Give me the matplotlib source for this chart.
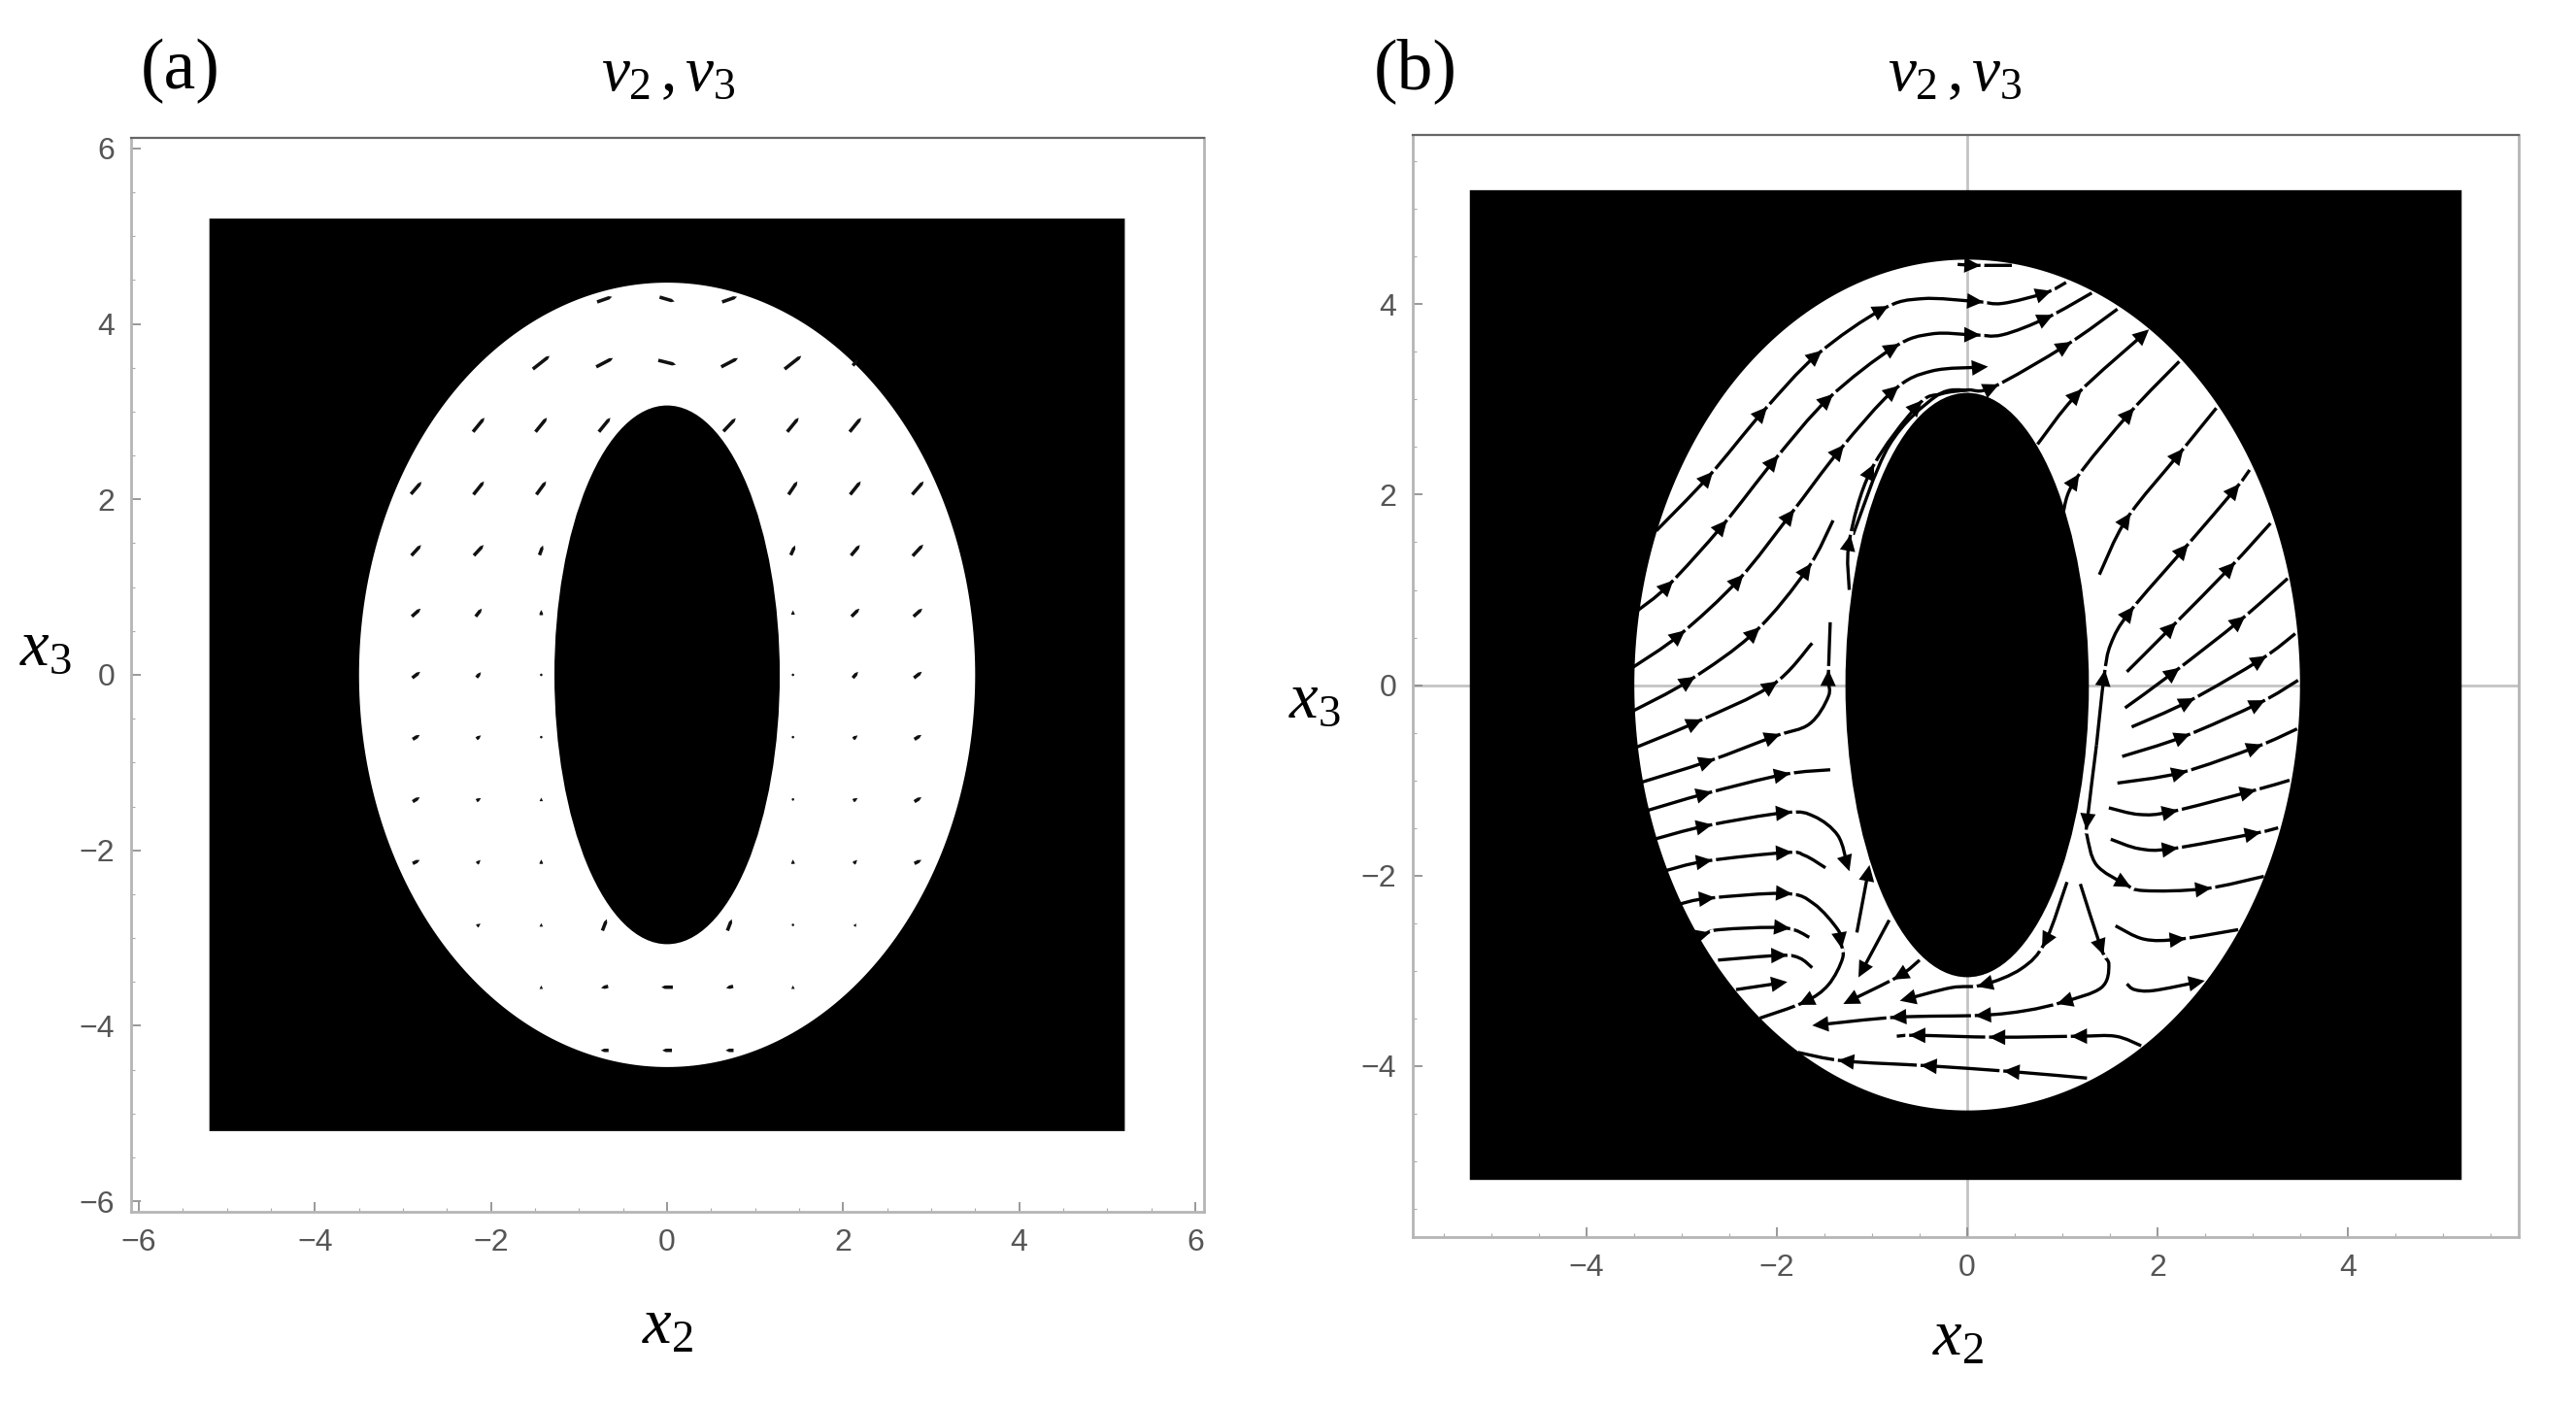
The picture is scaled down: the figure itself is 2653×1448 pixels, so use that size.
import matplotlib
matplotlib.use("Agg")
import matplotlib.pyplot as plt
import matplotlib.patches as patches
from matplotlib.path import Path
from matplotlib.ticker import MultipleLocator
import numpy as np

plt.rcParams["font.family"] = ["Liberation Sans", "DejaVu Sans"]
plt.rcParams["mathtext.fontset"] = "custom"
plt.rcParams["mathtext.rm"] = "Liberation Serif"
plt.rcParams["mathtext.it"] = "Liberation Serif:italic"

W, H = 2653, 1448

box_half = 5.2
outer_a, outer_b = 3.5, 4.47
inner_a, inner_b = 1.28, 3.07

tick_a = [-6, -4, -2, 0, 2, 4, 6]
tick_b = [-4, -2, 0, 2, 4]

# panel (a): rows of the vector grid, x positions and components per row
row_y = [4.28, 3.56, 2.85, 2.13, 1.42, 0.71, 0.0, -0.71, -1.42, -2.13, -2.85, -3.56, -4.28]
row_x = [
    [-0.71, 0, 0.71],
    [-1.43, -0.71, 0, 0.71, 1.43, 2.14],
    [-2.14, -1.43, -0.71, 0.71, 1.43, 2.14],
    [-2.85, -2.14, -1.43, 1.43, 2.14, 2.85],
    [-2.85, -2.14, -1.43, 1.43, 2.14, 2.85],
    [-2.85, -2.14, -1.43, 1.43, 2.14, 2.85],
    [-2.85, -2.14, -1.43, 1.43, 2.14, 2.85],
    [-2.85, -2.14, -1.43, 1.43, 2.14, 2.85],
    [-2.85, -2.14, -1.43, 1.43, 2.14, 2.85],
    [-2.85, -2.14, -1.43, 1.43, 2.14, 2.85],
    [-2.14, -1.43, -0.71, 0.71, 1.43, 2.14],
    [-1.43, -0.71, 0, 0.71, 1.43],
    [-0.71, 0, 0.71],
]
row_u = [
    [0.17, 0.17, 0.17],
    [0.19, 0.19, 0.2, 0.19, 0.19, 0.06],
    [0.13, 0.13, 0.13, 0.14, 0.13, 0.13],
    [0.12, 0.12, 0.11, 0.1, 0.12, 0.13],
    [0.11, 0.11, 0.04, 0.05, 0.1, 0.12],
    [0.1, 0.07, 0.0, 0.0, 0.09, 0.1],
    [0.09, 0.05, 0.0, 0.0, 0.06, 0.09],
    [0.08, 0.05, 0.0, 0.0, 0.05, 0.08],
    [0.08, 0.05, 0.0, 0.0, 0.05, 0.08],
    [0.08, 0.04, 0.0, 0.0, 0.04, 0.08],
    [0.04, 0.0, 0.05, 0.05, 0.0, 0.02],
    [0.0, -0.08, -0.13, -0.08, 0.0],
    [-0.09, -0.11, -0.09],
]
row_v = [
    [0.06, -0.05, 0.06],
    [0.15, 0.1, -0.05, 0.1, 0.15, 0.07],
    [0.16, 0.16, 0.16, 0.15, 0.16, 0.16],
    [0.14, 0.15, 0.15, 0.15, 0.15, 0.15],
    [0.12, 0.12, 0.11, 0.11, 0.12, 0.13],
    [0.09, 0.09, 0.06, 0.05, 0.09, 0.09],
    [0.07, 0.06, 0.03, 0.03, 0.07, 0.07],
    [0.05, 0.04, 0.02, 0.02, 0.04, 0.05],
    [0.05, 0.03, 0.04, 0.03, 0.03, 0.05],
    [0.04, 0.04, 0.05, 0.05, 0.04, 0.04],
    [0.03, 0.04, 0.13, 0.13, 0.03, 0.03],
    [0.04, -0.02, 0.0, -0.02, 0.04],
    [0.0, 0.0, 0.0],
]

# panel (b): streamlines in flow direction and the points that carry an arrowhead
streamlines = [
    [(-0.1, 4.42), (0.07, 4.41), (0.15, 4.41), (0.47, 4.41)],
    [(-3.27, 1.62), (-2.72, 2.19), (-2.15, 2.87), (-1.58, 3.47), (-0.89, 3.95), (-0.47, 4.06), (0.1, 4.03), (0.37, 4.01), (0.82, 4.12), (1.04, 4.23)],
    [(-3.47, 0.78), (-3.14, 1.05), (-2.57, 1.68), (-2.03, 2.36), (-1.46, 3.01), (-0.77, 3.55), (-0.37, 3.69), (0.07, 3.68), (0.37, 3.68), (0.84, 3.86), (1.31, 4.12)],
    [(-3.51, 0.19), (-3.02, 0.53), (-2.4, 1.11), (-1.86, 1.79), (-1.34, 2.47), (-0.77, 3.1), (-0.37, 3.3), (0.15, 3.34)],
    [(-3.51, -0.27), (-2.92, 0.05), (-2.23, 0.56), (-1.68, 1.22), (-1.41, 1.73)],
    [(-1.24, 1.0), (-1.24, 1.51), (-1.01, 2.26), (-0.52, 2.94), (-0.27, 3.06), (0.0, 3.1), (0.27, 3.13), (1.04, 3.57), (1.58, 3.95)],
    [(-1.2, 1.58), (-0.82, 2.52), (-0.32, 3.04), (0.0, 3.1)],
    [(-3.47, -0.65), (-2.85, -0.39), (-2.05, 0.0), (-1.63, 0.44)],
    [(-3.42, -1.02), (-2.72, -0.8), (-2.03, -0.54), (-1.66, -0.41), (-1.46, -0.12), (-1.46, 0.09), (-1.44, 0.66)],
    [(0.74, 2.53), (1.16, 3.06), (1.86, 3.69)],
    [(1.01, 1.82), (1.14, 2.16), (1.71, 2.86), (2.23, 3.4)],
    [(1.39, 1.16), (1.68, 1.75), (2.23, 2.43), (2.62, 2.91)],
    [(1.36, -0.63), (1.44, 0.09), (1.51, 0.43), (1.71, 0.77), (2.28, 1.43), (2.82, 2.06), (2.97, 2.26)],
    [(1.36, -0.63), (1.26, -1.45), (1.26, -1.58), (1.36, -1.89), (1.66, -2.09), (1.86, -2.16), (2.5, -2.14), (3.12, -2.01)],
    [(1.68, 0.14), (2.15, 0.61), (2.77, 1.24), (3.19, 1.7)],
    [(1.66, -0.24), (2.18, 0.14), (2.87, 0.68), (3.37, 1.12)],
    [(1.73, -0.44), (2.33, -0.17), (3.09, 0.27), (3.45, 0.54)],
    [(1.63, -0.75), (2.28, -0.54), (3.07, -0.19), (3.48, 0.05)],
    [(1.58, -1.03), (2.25, -0.92), (3.04, -0.65), (3.47, -0.46)],
    [(1.49, -1.29), (1.81, -1.36), (2.15, -1.33), (2.97, -1.12), (3.39, -1.0)],
    [(1.51, -1.62), (1.81, -1.72), (2.15, -1.72), (3.02, -1.56), (3.27, -1.5)],
    [(1.56, -2.53), (1.86, -2.67), (2.23, -2.67), (2.85, -2.57)],
    [(1.68, -3.14), (1.76, -3.2), (1.96, -3.21), (2.43, -3.12)],
    [(-3.37, -1.32), (-2.75, -1.14), (-1.93, -0.94), (-1.44, -0.89)],
    [(-3.29, -1.62), (-2.75, -1.48), (-1.91, -1.34), (-1.61, -1.38), (-1.36, -1.58), (-1.26, -1.89)],
    [(-3.17, -1.95), (-2.75, -1.85), (-1.91, -1.76), (-1.71, -1.79), (-1.49, -1.92)],
    [(-3.02, -2.3), (-2.72, -2.24), (-1.91, -2.19), (-1.61, -2.3), (-1.36, -2.57), (-1.33, -2.7), (-1.31, -2.87), (-1.46, -3.15), (-1.71, -3.33), (-2.18, -3.5)],
    [(-2.85, -2.64), (-2.77, -2.62), (-2.6, -2.57), (-1.93, -2.55), (-1.66, -2.65)],
    [(-2.62, -2.89), (-1.96, -2.84), (-1.76, -2.87), (-1.63, -2.97)],
    [(-2.43, -3.2), (-1.96, -3.13)],
    [(-1.16, -2.6), (-1.04, -1.96)],
    [(-0.82, -2.47), (-1.11, -3.01)],
    [(-0.5, -2.89), (-0.72, -3.06), (-1.24, -3.32)],
    [(1.05, -2.07), (0.82, -2.7), (0.57, -2.98), (0.17, -3.15), (-0.17, -3.18), (-0.64, -3.3)],
    [(1.19, -2.09), (1.41, -2.77), (1.49, -2.94), (1.41, -3.18), (1.01, -3.33), (0.62, -3.42), (0.15, -3.47), (-0.74, -3.49), (-1.56, -3.57)],
    [(1.83, -3.79), (1.56, -3.69), (1.16, -3.69), (0.3, -3.7), (-0.54, -3.68), (-0.74, -3.69)],
    [(1.26, -4.13), (0.45, -4.06), (-0.42, -4.0), (-1.29, -3.95), (-1.78, -3.86)],
]
stream_arrows = [
    [1], [1, 2, 3, 4, 6, 8], [1, 2, 3, 4, 5, 7, 9], [1, 2, 3, 4, 5, 7], [1, 2, 3],
    [1, 2, 3, 6, 7], [], [1, 2], [1, 2, 5], [1, 2], [1, 2], [1, 2], [1, 3, 4, 5],
    [1, 4, 6], [1, 2], [1, 2], [1, 2], [1, 2], [1, 2], [2, 3], [2, 3], [2], [3],
    [1, 2], [1, 2, 5], [1, 2], [1, 2, 5, 8], [1, 3], [1], [1], [1], [1], [1, 2],
    [1, 3, 5], [1, 4, 6, 7, 8], [2, 3, 4], [1, 2, 3],
]


def axes_px(fig, left, right, top, bottom):
    return fig.add_axes([left / W, 1 - bottom / H, (right - left) / W, (bottom - top) / H])


def style_axes(ax, ticks):
    ax.set_xticks(ticks)
    ax.set_yticks(ticks)
    ax.xaxis.set_minor_locator(MultipleLocator(0.5))
    ax.yaxis.set_minor_locator(MultipleLocator(0.5))
    ax.tick_params(which="major", direction="in", length=7, width=1.2, color="#888888",
                   labelsize=23, labelcolor="#555555", pad=12)
    ax.tick_params(which="minor", direction="in", length=3, width=0.8, color="#aaaaaa")
    for name, spine in ax.spines.items():
        spine.set_color("#666666" if name == "top" else "#b5b5b5")
        spine.set_linewidth(1.6 if name == "top" else 2.0)
        spine.set_zorder(6)


def draw_mask(ax, left=-box_half):
    # black box with the ring cut out of it, the axes lines stay visible in the ring
    t = np.linspace(2 * np.pi, 0, 361)
    box = [(left, -box_half), (box_half, -box_half), (box_half, box_half),
           (left, box_half), (left, -box_half)]
    hole = np.column_stack([outer_a * np.cos(t), outer_b * np.sin(t)])
    verts = np.vstack([box, hole])
    codes = [Path.MOVETO] + [Path.LINETO] * 3 + [Path.CLOSEPOLY]
    codes += [Path.MOVETO] + [Path.LINETO] * (len(hole) - 1)
    ax.add_patch(patches.PathPatch(Path(verts, codes), facecolor="black", edgecolor="none", zorder=2))
    ax.add_patch(patches.Ellipse((0, 0), 2 * inner_a, 2 * inner_b, facecolor="black",
                                 edgecolor="none", zorder=2))


def smooth_path(pts):
    p = np.array(pts, dtype=float)
    verts = [p[0]]
    codes = [Path.MOVETO]
    for i in range(len(p) - 1):
        prev = p[max(i - 1, 0)]
        nxt = p[min(i + 2, len(p) - 1)]
        verts += [p[i] + (p[i + 1] - prev) / 6, p[i + 1] - (nxt - p[i]) / 6, p[i + 1]]
        codes += [Path.CURVE4] * 3
    return Path(verts, codes)


def draw_stream(ax, pts, arrows):
    ax.add_patch(patches.PathPatch(smooth_path(pts), facecolor="none", edgecolor="black",
                                   lw=2.4, capstyle="butt", zorder=3))
    p = np.array(pts, dtype=float)
    for i in arrows:
        d = p[min(i + 1, len(p) - 1)] - p[i - 1]
        d = d / np.hypot(*d)
        tip = p[i] + 0.07 * d
        if i < len(p) - 1:
            gap = np.array([tip, tip + 0.04 * d])
            ax.plot(gap[:, 0], gap[:, 1], color="white", lw=3.8, solid_capstyle="butt", zorder=3.5)
        ax.annotate("", xy=tip, xytext=tip - 0.1 * d, zorder=4,
                    arrowprops=dict(arrowstyle="-|>,head_length=0.5,head_width=0.24", mutation_scale=24,
                                    shrinkA=0, shrinkB=0, lw=0, color="black"))


fig = plt.figure(figsize=(W / 100, H / 100), dpi=100)

# (a)
ax1 = axes_px(fig, 135, 1240, 142, 1248)
ax1.set_xlim(-6.09, 6.1)
ax1.set_ylim(-6.12, 6.12)
style_axes(ax1, tick_a)
draw_mask(ax1)
qx = [x for xs, y in zip(row_x, row_y) for x in xs]
qy = [y for xs, y in zip(row_x, row_y) for x in xs]
qu = [u for us in row_u for u in us]
qv = [v for vs in row_v for v in vs]
ax1.quiver(qx, qy, qu, qv, pivot="mid", angles="xy", scale_units="xy", scale=1,
           width=0.0032, headwidth=1, headlength=1, headaxislength=1,
           minlength=0.8, color="#111111", zorder=3)

# (b)
ax2 = axes_px(fig, 1455, 2594, 139, 1274)
ax2.set_xlim(-5.83, 5.8)
ax2.set_ylim(-5.8, 5.78)
style_axes(ax2, tick_b)
ax2.axvline(0, color="#c4c4c4", lw=2, zorder=1)
ax2.axhline(0, color="#c4c4c4", lw=2, zorder=1)
draw_mask(ax2, left=-5.23)
for pts, arrows in zip(streamlines, stream_arrows):
    draw_stream(ax2, pts, arrows)

serif = ["Liberation Serif", "DejaVu Serif"]
fig.text(186 / W, 1 - 73 / H, "(a)", family=serif, fontsize=53, ha="center", va="center")
fig.text(1458 / W, 1 - 73 / H, "(b)", family=serif, fontsize=53, ha="center", va="center")
fig.text(688 / W, 1 - 76 / H, r"$v_2\,,v_3$", fontsize=47, ha="center", va="center")
fig.text(2013 / W, 1 - 76 / H, r"$v_2\,,v_3$", fontsize=47, ha="center", va="center")
fig.text(688 / W, 1 - 1367 / H, r"$x_2$", fontsize=48, ha="center", va="center")
fig.text(2017 / W, 1 - 1379 / H, r"$x_2$", fontsize=48, ha="center", va="center")
fig.text(47 / W, 1 - 668 / H, r"$x_3$", fontsize=48, ha="center", va="center")
fig.text(1354 / W, 1 - 722 / H, r"$x_3$", fontsize=48, ha="center", va="center")

fig.savefig("out.png", dpi=100)
